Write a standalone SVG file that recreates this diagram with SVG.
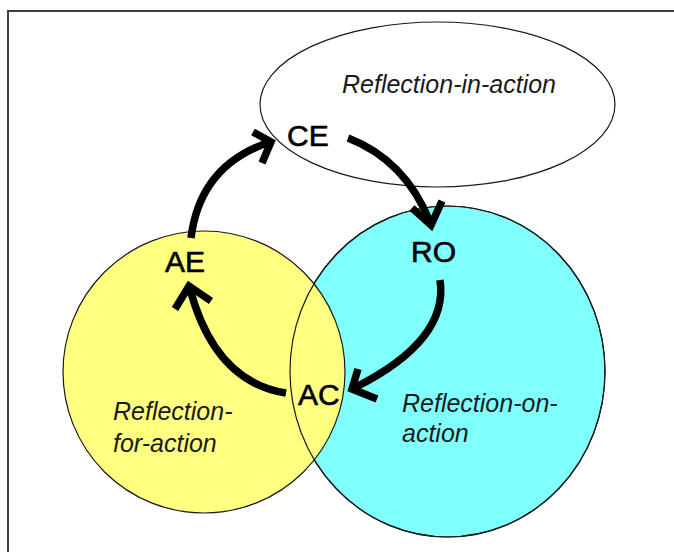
<svg xmlns="http://www.w3.org/2000/svg" width="674" height="552" viewBox="0 0 674 552">
<style>
.frame{fill:none;stroke:#404040;stroke-width:2}
.outline{stroke:#1a1a1a;stroke-width:1.2}
.arrow{fill:none;stroke:#000;stroke-width:7.5;stroke-linecap:butt;stroke-linejoin:miter}
.lbl{font-family:"Liberation Sans",Arial,sans-serif;font-size:30px;fill:#000;stroke:#000;stroke-width:0.6}
.it{font-family:"Liberation Sans",Arial,sans-serif;font-size:25px;font-style:italic;fill:#1a1a1a}
</style>
<rect x="0" y="0" width="674" height="552" fill="#fff"/>
<path class="frame" d="M8,552 V11 H674"/>
<g id="reflection-in-action">
<ellipse class="outline" cx="437.5" cy="104.5" rx="177.5" ry="82.5" fill="#fff"/>
<text class="it" x="342" y="93">Reflection-in-action</text>
</g>
<g id="reflection-on-action">
<ellipse class="outline" cx="447.5" cy="371.5" rx="157.5" ry="165.5" fill="#80ffff"/>
</g>
<g id="reflection-for-action">
<circle class="outline" cx="204" cy="372" r="141" fill="#ffff80"/>
<text class="it" x="113" y="420">Reflection-</text>
<text class="it" x="113" y="452">for-action</text>
</g>
<g id="overlap-outline">
<ellipse class="outline" cx="447.5" cy="371.5" rx="157.5" ry="165.5" fill="none"/>
<text class="it" x="402" y="412">Reflection-on-</text>
<text class="it" x="402" y="442">action</text>
</g>
<g id="CE"><text class="lbl" x="287" y="146">CE</text></g>
<g id="RO"><text class="lbl" x="411" y="262">RO</text></g>
<g id="AE"><text class="lbl" x="165" y="272">AE</text></g>
<g id="AC"><text class="lbl" x="298" y="405">AC</text></g>
<g id="connectors">
<path class="arrow" d="M191,238 Q200,165 270,142"/>
<polyline class="arrow" points="253,132 271,142 262,163"/>
<path class="arrow" d="M348,138 Q405,160 430,222"/>
<polyline class="arrow" points="412,208 431,225 442,201"/>
<path class="arrow" d="M440,280 Q449,340 356,387"/>
<polyline class="arrow" points="358,369 352,389 377,399"/>
<path class="arrow" d="M286,393 Q215,382 190,289"/>
<polyline class="arrow" points="175,309 189,286 211,301"/>
</g>
</svg>
